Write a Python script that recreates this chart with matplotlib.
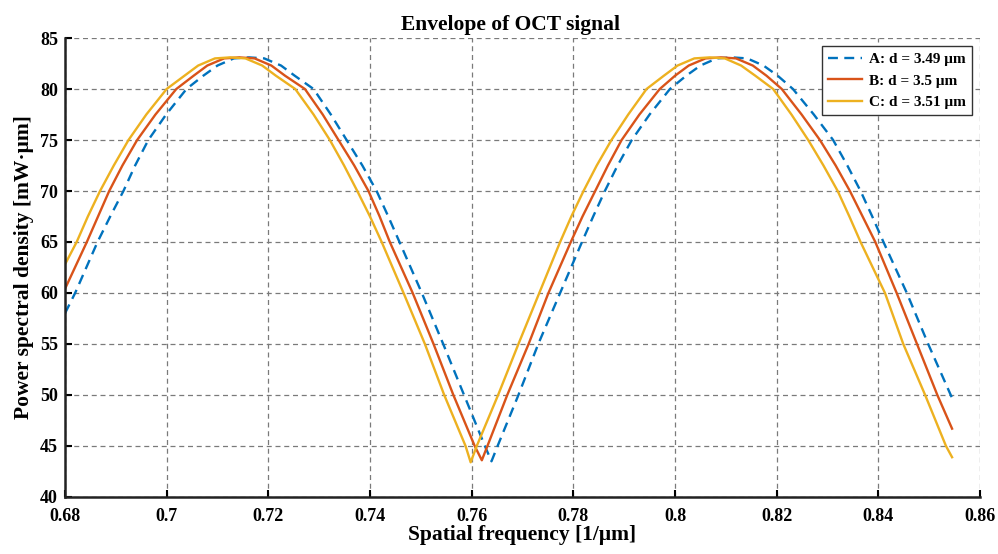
import numpy as np
import matplotlib
matplotlib.use("Agg")
import matplotlib.pyplot as plt

# values
x_a = [0.6800, 0.6820, 0.6864, 0.6889, 0.6915, 0.6938, 0.6964, 0.6999, 0.7039,
       0.7072, 0.7100, 0.7132, 0.7162, 0.7192, 0.7225, 0.7252, 0.7289, 0.7323,
       0.7354, 0.7385, 0.7413, 0.7436, 0.7458, 0.7502, 0.7544, 0.7585, 0.7626,
       0.7639, 0.7651, 0.7692, 0.7731, 0.7774, 0.7817, 0.7839, 0.7862, 0.7887,
       0.7915, 0.7950, 0.7990, 0.8022, 0.8050, 0.8082, 0.8112, 0.8142, 0.8174,
       0.8202, 0.8232, 0.8273, 0.8311, 0.8339, 0.8365, 0.8388, 0.8410, 0.8456,
       0.8498, 0.8545]
y_a = [58.0, 60.0, 65.0, 67.5, 70.0, 72.5, 75.0, 77.5, 80.0,
       81.3, 82.3, 83.0, 83.1, 83.0, 82.3, 81.3, 80.0, 77.5,
       75.0, 72.5, 70.0, 67.5, 65.0, 60.0, 55.0, 50.0, 45.0,
       43.5, 45.0, 50.0, 55.0, 60.0, 65.0, 67.5, 70.0, 72.5,
       75.0, 77.5, 80.0, 81.3, 82.3, 83.0, 83.1, 83.0, 82.3,
       81.3, 80.0, 77.5, 75.0, 72.5, 70.0, 67.5, 65.0, 60.0,
       55.0, 49.7]

x_b = [0.6800, 0.6843, 0.6865, 0.6887, 0.6913, 0.6942, 0.6978, 0.7019, 0.7053,
       0.7080, 0.7113, 0.7143, 0.7173, 0.7206, 0.7233, 0.7272, 0.7307, 0.7338,
       0.7369, 0.7397, 0.7419, 0.7439, 0.7484, 0.7525, 0.7564, 0.7606, 0.7620,
       0.7631, 0.7670, 0.7712, 0.7751, 0.7795, 0.7818, 0.7843, 0.7868, 0.7895,
       0.7930, 0.7970, 0.8000, 0.8027, 0.8060, 0.8090, 0.8120, 0.8153, 0.8180,
       0.8210, 0.8249, 0.8285, 0.8316, 0.8344, 0.8369, 0.8394, 0.8436, 0.8476,
       0.8516, 0.8545]
y_b = [60.4, 65.0, 67.5, 70.0, 72.5, 75.0, 77.5, 80.0, 81.3,
       82.3, 83.0, 83.1, 83.0, 82.3, 81.3, 80.0, 77.5, 75.0,
       72.5, 70.0, 67.5, 65.0, 60.0, 55.0, 50.0, 45.0, 43.6,
       45.0, 50.0, 55.0, 60.0, 65.0, 67.5, 70.0, 72.5, 75.0,
       77.5, 80.0, 81.3, 82.3, 83.0, 83.1, 83.0, 82.3, 81.3,
       80.0, 77.5, 75.0, 72.5, 70.0, 67.5, 65.0, 60.0, 55.0,
       50.0, 46.7]

x_c = [0.6800, 0.6823, 0.6845, 0.6869, 0.6896, 0.6925, 0.6960, 0.7000, 0.7035,
       0.7062, 0.7095, 0.7125, 0.7155, 0.7188, 0.7215, 0.7253, 0.7289, 0.7321,
       0.7349, 0.7375, 0.7400, 0.7423, 0.7466, 0.7508, 0.7546, 0.7588, 0.7598,
       0.7610, 0.7652, 0.7692, 0.7733, 0.7774, 0.7796, 0.7820, 0.7846, 0.7875,
       0.7908, 0.7944, 0.7978, 0.8005, 0.8038, 0.8068, 0.8098, 0.8130, 0.8158,
       0.8193, 0.8229, 0.8262, 0.8292, 0.8320, 0.8343, 0.8365, 0.8413, 0.8449,
       0.8492, 0.8533, 0.8545]
y_c = [62.8, 65.0, 67.5, 70.0, 72.5, 75.0, 77.5, 80.0, 81.3,
       82.3, 83.0, 83.1, 83.0, 82.3, 81.3, 80.0, 77.5, 75.0,
       72.5, 70.0, 67.5, 65.0, 60.0, 55.0, 50.0, 45.0, 43.4,
       45.0, 50.0, 55.0, 60.0, 65.0, 67.5, 70.0, 72.5, 75.0,
       77.5, 80.0, 81.3, 82.3, 83.0, 83.1, 83.0, 82.3, 81.3,
       80.0, 77.5, 75.0, 72.5, 70.0, 67.5, 65.0, 60.0, 55.0,
       50.0, 45.0, 43.9]

labels = ["A: d = 3.49 μm", "B: d = 3.5 μm", "C: d = 3.51 μm"]
x_ticks = [0.68, 0.7, 0.72, 0.74, 0.76, 0.78, 0.8, 0.82, 0.84, 0.86]
x_ticklabels = ["0.68", "0.7", "0.72", "0.74", "0.76", "0.78", "0.8", "0.82", "0.84", "0.86"]
y_ticks = [40, 45, 50, 55, 60, 65, 70, 75, 80, 85]

plt.rcParams["font.family"] = ["Liberation Serif", "DejaVu Serif"]
plt.rcParams["font.weight"] = "bold"

fig = plt.figure(figsize=(9.98, 5.54), dpi=100)
ax = fig.add_axes([0.0651, 0.1029, 0.9169, 0.8285])

ax.plot(x_a, y_a, color="#0072BD", lw=1.7, dashes=(4.2, 2.7), label=labels[0])
ax.plot(x_b, y_b, color="#D95319", lw=1.7, label=labels[1])
ax.plot(x_c, y_c, color="#EDB120", lw=1.7, label=labels[2])

ax.set_xlim(0.68, 0.86)
ax.set_ylim(40, 85)
ax.set_xticks(x_ticks)
ax.set_xticklabels(x_ticklabels)
ax.set_yticks(y_ticks)
ax.tick_params(direction="in", length=5, width=1.5, labelsize=13)
ax.tick_params(axis="x", pad=8)
ax.tick_params(axis="y", pad=5)
for lab in ax.get_xticklabels() + ax.get_yticklabels():
    lab.set_fontweight("bold")

ax.grid(True, color="#7a7a7a", linestyle=(0, (4, 3)), linewidth=0.9)
ax.set_axisbelow(True)
ax.spines["top"].set_visible(False)
ax.spines["right"].set_visible(False)
ax.spines["left"].set_linewidth(1.8)
ax.spines["bottom"].set_linewidth(1.8)
ax.spines["left"].set_color("#222222")
ax.spines["bottom"].set_color("#222222")

ax.set_title("Envelope of OCT signal", fontsize=15.5, fontweight="bold", pad=6, x=0.487)
ax.set_xlabel("Spatial frequency [1/μm]", fontsize=15.5, fontweight="bold", labelpad=0)
ax.set_ylabel("Power spectral density [mW·μm]", fontsize=15.5, fontweight="bold", labelpad=4)

leg = ax.legend(loc="upper right", fontsize=11, fancybox=False, framealpha=1,
                edgecolor="#333333", handlelength=2.2, borderpad=0.4,
                labelspacing=0.5, handletextpad=0.45, borderaxespad=0.55)
leg.get_frame().set_linewidth(1.0)
for t in leg.get_texts():
    t.set_fontweight("bold")

fig.savefig("out.png", dpi=100)
